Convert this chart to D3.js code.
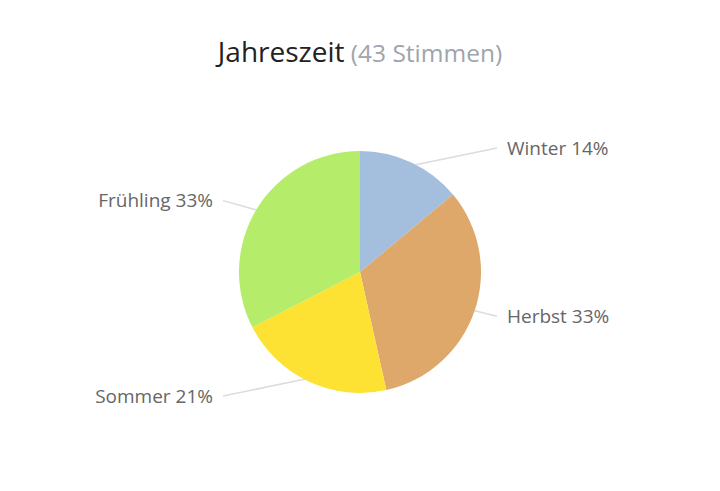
<!DOCTYPE html>
<html>
<head>
<meta charset="utf-8">
<script src="https://cdn.jsdelivr.net/npm/d3@7"></script>
<style>
  body { margin: 0; background: #fff; }
  svg { display: block; font-family: "Open Sans", sans-serif; }
</style>
</head>
<body>
<div id="chart"></div>
<script>
// Abstimmung: Jahreszeit
const seasons = ["Winter", "Herbst", "Sommer", "Frühling"];
const votes = [6, 14, 9, 14];
const colors = ["#a4bfde", "#dea86a", "#fde234", "#b5ec6a"];

const width = 720, height = 491;
const cx = 360, cy = 272, radius = 121;

const svg = d3.select("#chart")
    .append("svg")
    .attr("width", width)
    .attr("height", height);

// title
const title = svg.append("text")
    .attr("x", width / 2)
    .attr("y", 62)
    .attr("text-anchor", "middle");
title.append("tspan")
    .attr("fill", "#222")
    .attr("font-size", 28)
    .text("Jahreszeit");
title.append("tspan")
    .attr("fill", "#a0a4ab")
    .attr("font-size", 24.5)
    .text(" (" + d3.sum(votes) + " Stimmen)");

const total = d3.sum(votes);
const data = seasons.map((s, i) => ({ name: s, value: votes[i], color: colors[i] }));

const pie = d3.pie()
    .sort(null)
    .value(d => d.value);

const arc = d3.arc()
    .innerRadius(0)
    .outerRadius(radius);

const arcs = pie(data);

const g = svg.append("g")
    .attr("transform", `translate(${cx},${cy})`);

// connector lines
const lineR = 137, labelX = 147;
g.selectAll("polyline")
    .data(arcs)
    .enter()
    .append("polyline")
    .attr("fill", "none")
    .attr("stroke", "#dcdcdc")
    .attr("stroke-width", 1.5)
    .attr("points", d => {
        const a = (d.startAngle + d.endAngle) / 2;
        const side = Math.sin(a) >= 0 ? 1 : -1;
        const p0 = [Math.sin(a) * (radius - 4), -Math.cos(a) * (radius - 4)];
        const p1 = [side * lineR, -Math.cos(a) * lineR];
        return [p0, p1].map(p => p.join(",")).join(" ");
    });

g.selectAll("path")
    .data(arcs)
    .enter()
    .append("path")
    .attr("d", arc)
    .attr("fill", d => d.data.color);

g.selectAll("text.label")
    .data(arcs)
    .enter()
    .append("text")
    .attr("class", "label")
    .attr("x", d => {
        const a = (d.startAngle + d.endAngle) / 2;
        return Math.sin(a) >= 0 ? labelX : -labelX;
    })
    .attr("y", d => -Math.cos((d.startAngle + d.endAngle) / 2) * lineR)
    .attr("dy", "0.35em")
    .attr("text-anchor", d => Math.sin((d.startAngle + d.endAngle) / 2) >= 0 ? "start" : "end")
    .attr("fill", "#666")
    .attr("font-size", 19)
    .text(d => d.data.name + " " + Math.round(d.data.value / total * 100) + "%");
</script>
</body>
</html>
